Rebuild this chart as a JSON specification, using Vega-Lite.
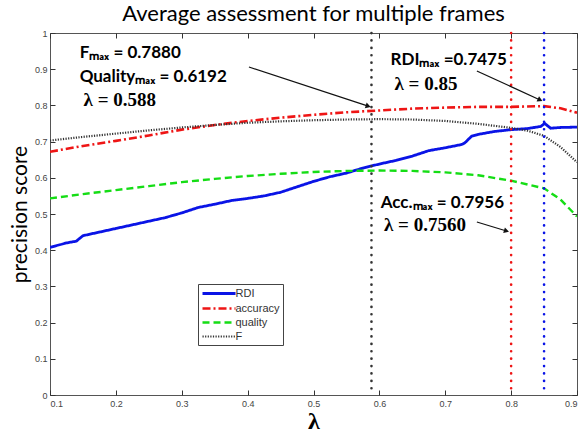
{
  "$schema": "https://vega.github.io/schema/vega-lite/v6.json",
  "width": 527,
  "height": 362,
  "autosize": {"type": "none"},
  "padding": {"left": 50, "top": 33, "right": 5, "bottom": 38},
  "background": "white",
  "title": {"text": "Average assessment for multiple frames", "font": "Lato", "fontSize": 22, "fontWeight": "normal", "color": "#000", "anchor": "middle", "offset": 3},
  "config": {
    "view": {"stroke": "#555", "strokeWidth": 1},
    "axis": {"grid": false, "domain": false, "tickColor": "#333", "tickWidth": 1, "tickSize": 5, "offset": -5, "labelFont": "Liberation Sans", "labelFontSize": 9, "labelColor": "#444"}
  },
  "datasets": {
    "curves": [
      {"series": "RDI", "lambda": 0.1, "score": 0.408},
      {"series": "RDI", "lambda": 0.125, "score": 0.42},
      {"series": "RDI", "lambda": 0.14, "score": 0.425},
      {"series": "RDI", "lambda": 0.15, "score": 0.44},
      {"series": "RDI", "lambda": 0.175, "score": 0.45},
      {"series": "RDI", "lambda": 0.2, "score": 0.46},
      {"series": "RDI", "lambda": 0.225, "score": 0.47},
      {"series": "RDI", "lambda": 0.25, "score": 0.48},
      {"series": "RDI", "lambda": 0.275, "score": 0.49},
      {"series": "RDI", "lambda": 0.3, "score": 0.503},
      {"series": "RDI", "lambda": 0.325, "score": 0.518},
      {"series": "RDI", "lambda": 0.35, "score": 0.527},
      {"series": "RDI", "lambda": 0.375, "score": 0.537},
      {"series": "RDI", "lambda": 0.4, "score": 0.543},
      {"series": "RDI", "lambda": 0.425, "score": 0.55},
      {"series": "RDI", "lambda": 0.45, "score": 0.56},
      {"series": "RDI", "lambda": 0.475, "score": 0.575},
      {"series": "RDI", "lambda": 0.5, "score": 0.59},
      {"series": "RDI", "lambda": 0.525, "score": 0.603},
      {"series": "RDI", "lambda": 0.55, "score": 0.613},
      {"series": "RDI", "lambda": 0.575, "score": 0.627},
      {"series": "RDI", "lambda": 0.6, "score": 0.638},
      {"series": "RDI", "lambda": 0.625, "score": 0.648},
      {"series": "RDI", "lambda": 0.65, "score": 0.66},
      {"series": "RDI", "lambda": 0.675, "score": 0.675},
      {"series": "RDI", "lambda": 0.7, "score": 0.683},
      {"series": "RDI", "lambda": 0.725, "score": 0.692},
      {"series": "RDI", "lambda": 0.73, "score": 0.697},
      {"series": "RDI", "lambda": 0.74, "score": 0.715},
      {"series": "RDI", "lambda": 0.75, "score": 0.72},
      {"series": "RDI", "lambda": 0.775, "score": 0.728},
      {"series": "RDI", "lambda": 0.8, "score": 0.733},
      {"series": "RDI", "lambda": 0.825, "score": 0.736},
      {"series": "RDI", "lambda": 0.845, "score": 0.742},
      {"series": "RDI", "lambda": 0.851, "score": 0.75},
      {"series": "RDI", "lambda": 0.86, "score": 0.737},
      {"series": "RDI", "lambda": 0.875, "score": 0.739},
      {"series": "RDI", "lambda": 0.9, "score": 0.74},
      {"series": "accuracy", "lambda": 0.1, "score": 0.672},
      {"series": "accuracy", "lambda": 0.15, "score": 0.688},
      {"series": "accuracy", "lambda": 0.2, "score": 0.702},
      {"series": "accuracy", "lambda": 0.25, "score": 0.717},
      {"series": "accuracy", "lambda": 0.3, "score": 0.733},
      {"series": "accuracy", "lambda": 0.35, "score": 0.746},
      {"series": "accuracy", "lambda": 0.4, "score": 0.757},
      {"series": "accuracy", "lambda": 0.45, "score": 0.766},
      {"series": "accuracy", "lambda": 0.5, "score": 0.774},
      {"series": "accuracy", "lambda": 0.55, "score": 0.781},
      {"series": "accuracy", "lambda": 0.6, "score": 0.786},
      {"series": "accuracy", "lambda": 0.65, "score": 0.791},
      {"series": "accuracy", "lambda": 0.7, "score": 0.794},
      {"series": "accuracy", "lambda": 0.75, "score": 0.796},
      {"series": "accuracy", "lambda": 0.8, "score": 0.796},
      {"series": "accuracy", "lambda": 0.85, "score": 0.798},
      {"series": "accuracy", "lambda": 0.875, "score": 0.792},
      {"series": "accuracy", "lambda": 0.9, "score": 0.78},
      {"series": "quality", "lambda": 0.1, "score": 0.543},
      {"series": "quality", "lambda": 0.15, "score": 0.555},
      {"series": "quality", "lambda": 0.2, "score": 0.566},
      {"series": "quality", "lambda": 0.25, "score": 0.577},
      {"series": "quality", "lambda": 0.3, "score": 0.588},
      {"series": "quality", "lambda": 0.35, "score": 0.597},
      {"series": "quality", "lambda": 0.4, "score": 0.605},
      {"series": "quality", "lambda": 0.45, "score": 0.611},
      {"series": "quality", "lambda": 0.5, "score": 0.616},
      {"series": "quality", "lambda": 0.55, "score": 0.619},
      {"series": "quality", "lambda": 0.6, "score": 0.62},
      {"series": "quality", "lambda": 0.65, "score": 0.619},
      {"series": "quality", "lambda": 0.7, "score": 0.615},
      {"series": "quality", "lambda": 0.75, "score": 0.607},
      {"series": "quality", "lambda": 0.8, "score": 0.592},
      {"series": "quality", "lambda": 0.85, "score": 0.571},
      {"series": "quality", "lambda": 0.875, "score": 0.54},
      {"series": "quality", "lambda": 0.9, "score": 0.493},
      {"series": "F", "lambda": 0.1, "score": 0.703},
      {"series": "F", "lambda": 0.15, "score": 0.713},
      {"series": "F", "lambda": 0.2, "score": 0.722},
      {"series": "F", "lambda": 0.25, "score": 0.731},
      {"series": "F", "lambda": 0.3, "score": 0.739},
      {"series": "F", "lambda": 0.35, "score": 0.746},
      {"series": "F", "lambda": 0.4, "score": 0.752},
      {"series": "F", "lambda": 0.45, "score": 0.756},
      {"series": "F", "lambda": 0.5, "score": 0.759},
      {"series": "F", "lambda": 0.55, "score": 0.761},
      {"series": "F", "lambda": 0.6, "score": 0.762},
      {"series": "F", "lambda": 0.65, "score": 0.761},
      {"series": "F", "lambda": 0.7, "score": 0.757},
      {"series": "F", "lambda": 0.75, "score": 0.749},
      {"series": "F", "lambda": 0.8, "score": 0.738},
      {"series": "F", "lambda": 0.825, "score": 0.73},
      {"series": "F", "lambda": 0.85, "score": 0.716},
      {"series": "F", "lambda": 0.875, "score": 0.685},
      {"series": "F", "lambda": 0.9, "score": 0.643}
    ],
    "vlines": [
      {"series": "F", "lambda": 0.588},
      {"series": "accuracy", "lambda": 0.8},
      {"series": "RDI", "lambda": 0.85}
    ],
    "arrows": [
      {"id": "a1", "x1": 0.402, "y1": 0.906, "x2": 0.583, "y2": 0.798},
      {"id": "a2", "x1": 0.748, "y1": 0.895, "x2": 0.844, "y2": 0.815},
      {"id": "a3", "x1": 0.748, "y1": 0.478, "x2": 0.793, "y2": 0.453}
    ],
    "notes": [
      {"kind": "sans", "x": 0.145, "y": 0.945, "t": "Fₘₐₓ = 0.7880"},
      {"kind": "sans", "x": 0.145, "y": 0.879, "t": "Qualityₘₐₓ = 0.6192"},
      {"kind": "sans", "x": 0.617, "y": 0.925, "t": "RDIₘₐₓ =0.7475"},
      {"kind": "sans", "x": 0.602, "y": 0.53, "t": "Acc.ₘₐₓ = 0.7956"},
      {"kind": "serif", "x": 0.151, "y": 0.815, "t": "λ = 0.588"},
      {"kind": "serif", "x": 0.623, "y": 0.859, "t": "λ = 0.85"},
      {"kind": "serif", "x": 0.607, "y": 0.47, "t": "λ = 0.7560"}
    ]
  },
  "layer": [
    {
      "data": {"name": "curves"},
      "mark": {"type": "line", "clip": true},
      "encoding": {
        "x": {"field": "lambda", "type": "quantitative", "scale": {"domain": [0.1, 0.9], "nice": false, "zero": false},
              "axis": {"orient": "bottom", "values": [0.1, 0.2, 0.3, 0.4, 0.5, 0.6, 0.7, 0.8, 0.9], "format": "~g", "labelPadding": 4,
                       "title": "λ", "titleFont": "Liberation Serif", "titleFontSize": 24, "titleFontWeight": "bold", "titleColor": "#000", "titlePadding": 1}},
        "y": {"field": "score", "type": "quantitative", "scale": {"domain": [0, 1], "nice": false, "zero": false},
              "axis": {"orient": "left", "values": [0, 0.1, 0.2, 0.3, 0.4, 0.5, 0.6, 0.7, 0.8, 0.9, 1], "format": "~g", "labelPadding": 3,
                       "title": "precision score", "titleFont": "Lato", "titleFontSize": 21, "titleFontWeight": "normal", "titleColor": "#000", "titlePadding": 4}},
        "color": {"field": "series", "type": "nominal",
                  "scale": {"domain": ["RDI", "accuracy", "quality", "F"], "range": ["#0a14e6", "#ee1515", "#15dd15", "#333333"]},
                  "legend": {"orient": "none", "legendX": 148, "legendY": 251, "title": null, "strokeColor": "#444", "fillColor": "white", "padding": 3,
                             "symbolType": "M-3.3,0H3.3", "symbolSize": 100, "symbolOffset": 11.5, "symbolStrokeWidth": 2.2, "labelFont": "Liberation Sans", "labelFontSize": 11,
                             "labelColor": "#333", "rowPadding": 2, "labelOffset": 10, "cornerRadius": 0}},
        "strokeDash": {"field": "series", "type": "nominal",
                       "scale": {"domain": ["RDI", "accuracy", "quality", "F"], "range": [[1, 0], [8, 3, 2, 3], [7, 4], [1.2, 1.4]]},
                       "legend": {"orient": "none", "legendX": 148, "legendY": 251, "title": null, "strokeColor": "#444", "fillColor": "white", "padding": 3,
                             "symbolType": "M-3.3,0H3.3", "symbolSize": 100, "symbolOffset": 11.5, "symbolStrokeWidth": 2.2, "labelFont": "Liberation Sans", "labelFontSize": 11,
                             "labelColor": "#333", "rowPadding": 2, "labelOffset": 10, "cornerRadius": 0}},
        "strokeWidth": {"field": "series", "type": "nominal",
                        "scale": {"domain": ["RDI", "accuracy", "quality", "F"], "range": [2.8, 2.2, 2.6, 2]}, "legend": null}
      }
    },
    {
      "data": {"name": "vlines"},
      "mark": {"type": "rule", "strokeWidth": 2.6, "strokeDash": [0.1, 7.3], "strokeCap": "round"},
      "encoding": {
        "x": {"field": "lambda", "type": "quantitative",
              "axis": {"orient": "top", "values": [0.1, 0.2, 0.3, 0.4, 0.5, 0.6, 0.7, 0.8, 0.9], "labels": false, "title": null}},
        "color": {"field": "series", "type": "nominal"}
      }
    },
    {
      "data": {"name": "arrows"},
      "mark": {"type": "rule", "color": "#111", "strokeWidth": 1.2},
      "encoding": {
        "x": {"field": "x1", "type": "quantitative", "axis": null},
        "y": {"field": "y1", "type": "quantitative",
              "axis": {"orient": "right", "values": [0, 0.1, 0.2, 0.3, 0.4, 0.5, 0.6, 0.7, 0.8, 0.9, 1], "labels": false, "title": null}},
        "x2": {"field": "x2"},
        "y2": {"field": "y2"}
      }
    },
    {
      "data": {"name": "arrows"},
      "transform": [{"filter": "datum.id == 'a1'"}],
      "mark": {"type": "point", "shape": "triangle-right", "filled": true, "color": "#111", "size": 35, "angle": 18, "opacity": 1},
      "encoding": {
        "x": {"field": "x2", "type": "quantitative", "axis": null},
        "y": {"field": "y2", "type": "quantitative", "axis": null}
      }
    },
    {
      "data": {"name": "arrows"},
      "transform": [{"filter": "datum.id == 'a2'"}],
      "mark": {"type": "point", "shape": "triangle-right", "filled": true, "color": "#111", "size": 35, "angle": 25, "opacity": 1},
      "encoding": {
        "x": {"field": "x2", "type": "quantitative", "axis": null},
        "y": {"field": "y2", "type": "quantitative", "axis": null}
      }
    },
    {
      "data": {"name": "arrows"},
      "transform": [{"filter": "datum.id == 'a3'"}],
      "mark": {"type": "point", "shape": "triangle-right", "filled": true, "color": "#111", "size": 35, "angle": 17, "opacity": 1},
      "encoding": {
        "x": {"field": "x2", "type": "quantitative", "axis": null},
        "y": {"field": "y2", "type": "quantitative", "axis": null}
      }
    },
    {
      "data": {"name": "notes"},
      "transform": [{"filter": "datum.kind == 'sans'"}],
      "mark": {"type": "text", "align": "left", "baseline": "middle", "font": "Lato", "fontWeight": "bold", "fontSize": 17, "color": "#000"},
      "encoding": {
        "x": {"field": "x", "type": "quantitative", "axis": null},
        "y": {"field": "y", "type": "quantitative", "axis": null},
        "text": {"field": "t"}
      }
    },
    {
      "data": {"name": "notes"},
      "transform": [{"filter": "datum.kind == 'serif'"}],
      "mark": {"type": "text", "align": "left", "baseline": "middle", "font": "Liberation Serif", "fontWeight": "bold", "fontSize": 19, "color": "#000"},
      "encoding": {
        "x": {"field": "x", "type": "quantitative", "axis": null},
        "y": {"field": "y", "type": "quantitative", "axis": null},
        "text": {"field": "t"}
      }
    }
  ],
  "resolve": {"axis": {"x": "independent", "y": "independent"}}
}
